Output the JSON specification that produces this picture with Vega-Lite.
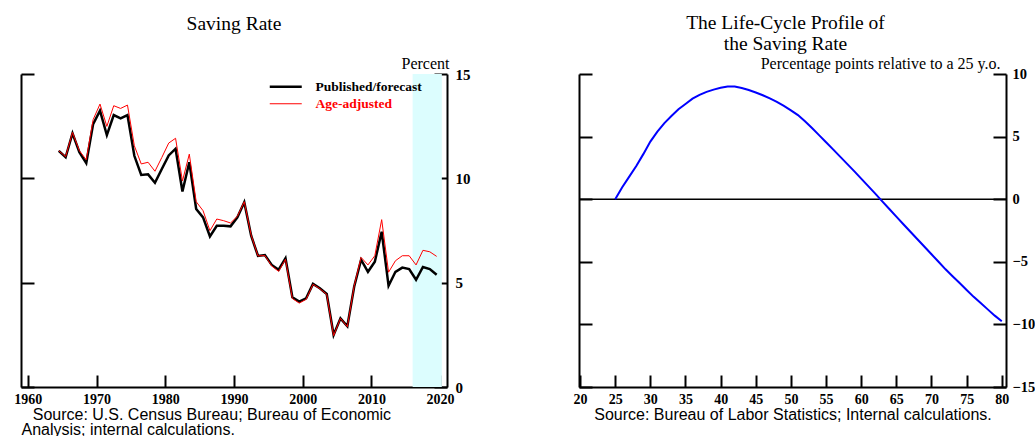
{
  "$schema": "https://vega.github.io/schema/vega-lite/v6.json",
  "background": "white",
  "padding": {"left": 13, "top": 12, "right": 0, "bottom": 0},
  "spacing": 132,
  "bounds": "flush",
  "config": {
    "view": {"stroke": null},
    "axis": {
      "grid": false,
      "domainColor": "#000000",
      "domainWidth": 2,
      "tickColor": "#000000",
      "tickWidth": 2,
      "labelFont": "Liberation Serif",
      "labelFontWeight": "bold",
      "labelColor": "#000000",
      "titleColor": "#000000",
      "labelFlush": false,
      "labelOverlap": false
    }
  },
  "datasets": {
    "saving": [
      {"date": "1964-07-01", "series": "Published/forecast", "value": 11.32},
      {"date": "1965-07-01", "series": "Published/forecast", "value": 11.01},
      {"date": "1966-07-01", "series": "Published/forecast", "value": 12.16},
      {"date": "1967-07-01", "series": "Published/forecast", "value": 11.25},
      {"date": "1968-07-01", "series": "Published/forecast", "value": 10.73},
      {"date": "1969-07-01", "series": "Published/forecast", "value": 12.6},
      {"date": "1970-07-01", "series": "Published/forecast", "value": 13.24},
      {"date": "1971-07-01", "series": "Published/forecast", "value": 12.07},
      {"date": "1972-07-01", "series": "Published/forecast", "value": 13.03},
      {"date": "1973-07-01", "series": "Published/forecast", "value": 12.87},
      {"date": "1974-07-01", "series": "Published/forecast", "value": 13.03},
      {"date": "1975-07-01", "series": "Published/forecast", "value": 11.08},
      {"date": "1976-07-01", "series": "Published/forecast", "value": 10.16},
      {"date": "1977-07-01", "series": "Published/forecast", "value": 10.19},
      {"date": "1978-07-01", "series": "Published/forecast", "value": 9.79},
      {"date": "1979-07-01", "series": "Published/forecast", "value": 10.45},
      {"date": "1980-07-01", "series": "Published/forecast", "value": 11.1},
      {"date": "1981-07-01", "series": "Published/forecast", "value": 11.42},
      {"date": "1982-07-01", "series": "Published/forecast", "value": 9.37},
      {"date": "1983-07-01", "series": "Published/forecast", "value": 10.77},
      {"date": "1984-07-01", "series": "Published/forecast", "value": 8.53},
      {"date": "1985-07-01", "series": "Published/forecast", "value": 8.13},
      {"date": "1986-07-01", "series": "Published/forecast", "value": 7.22},
      {"date": "1987-07-01", "series": "Published/forecast", "value": 7.73},
      {"date": "1988-07-01", "series": "Published/forecast", "value": 7.73},
      {"date": "1989-07-01", "series": "Published/forecast", "value": 7.7},
      {"date": "1990-07-01", "series": "Published/forecast", "value": 8.13},
      {"date": "1991-07-01", "series": "Published/forecast", "value": 8.85},
      {"date": "1992-07-01", "series": "Published/forecast", "value": 7.25},
      {"date": "1993-07-01", "series": "Published/forecast", "value": 6.28},
      {"date": "1994-07-01", "series": "Published/forecast", "value": 6.32},
      {"date": "1995-07-01", "series": "Published/forecast", "value": 5.85},
      {"date": "1996-07-01", "series": "Published/forecast", "value": 5.62},
      {"date": "1997-07-01", "series": "Published/forecast", "value": 6.17},
      {"date": "1998-07-01", "series": "Published/forecast", "value": 4.3},
      {"date": "1999-07-01", "series": "Published/forecast", "value": 4.09},
      {"date": "2000-07-01", "series": "Published/forecast", "value": 4.25},
      {"date": "2001-07-01", "series": "Published/forecast", "value": 4.94},
      {"date": "2002-07-01", "series": "Published/forecast", "value": 4.73},
      {"date": "2003-07-01", "series": "Published/forecast", "value": 4.46},
      {"date": "2004-07-01", "series": "Published/forecast", "value": 2.49},
      {"date": "2005-07-01", "series": "Published/forecast", "value": 3.29},
      {"date": "2006-07-01", "series": "Published/forecast", "value": 2.91},
      {"date": "2007-07-01", "series": "Published/forecast", "value": 4.82},
      {"date": "2008-07-01", "series": "Published/forecast", "value": 6.1},
      {"date": "2009-07-01", "series": "Published/forecast", "value": 5.52},
      {"date": "2010-07-01", "series": "Published/forecast", "value": 6.0},
      {"date": "2011-07-01", "series": "Published/forecast", "value": 7.44},
      {"date": "2012-07-01", "series": "Published/forecast", "value": 4.85},
      {"date": "2013-07-01", "series": "Published/forecast", "value": 5.52},
      {"date": "2014-07-01", "series": "Published/forecast", "value": 5.72},
      {"date": "2015-07-01", "series": "Published/forecast", "value": 5.65},
      {"date": "2016-07-01", "series": "Published/forecast", "value": 5.14},
      {"date": "2017-07-01", "series": "Published/forecast", "value": 5.75},
      {"date": "2018-07-01", "series": "Published/forecast", "value": 5.65},
      {"date": "2019-07-01", "series": "Published/forecast", "value": 5.38},
      {"date": "1964-07-01", "series": "Age-adjusted", "value": 11.32},
      {"date": "1965-07-01", "series": "Age-adjusted", "value": 11.04},
      {"date": "1966-07-01", "series": "Age-adjusted", "value": 12.2},
      {"date": "1967-07-01", "series": "Age-adjusted", "value": 11.32},
      {"date": "1968-07-01", "series": "Age-adjusted", "value": 10.89},
      {"date": "1969-07-01", "series": "Age-adjusted", "value": 12.81},
      {"date": "1970-07-01", "series": "Age-adjusted", "value": 13.56},
      {"date": "1971-07-01", "series": "Age-adjusted", "value": 12.49},
      {"date": "1972-07-01", "series": "Age-adjusted", "value": 13.48},
      {"date": "1973-07-01", "series": "Age-adjusted", "value": 13.35},
      {"date": "1974-07-01", "series": "Age-adjusted", "value": 13.51},
      {"date": "1975-07-01", "series": "Age-adjusted", "value": 11.56},
      {"date": "1976-07-01", "series": "Age-adjusted", "value": 10.69},
      {"date": "1977-07-01", "series": "Age-adjusted", "value": 10.77},
      {"date": "1978-07-01", "series": "Age-adjusted", "value": 10.34},
      {"date": "1979-07-01", "series": "Age-adjusted", "value": 11.0},
      {"date": "1980-07-01", "series": "Age-adjusted", "value": 11.69},
      {"date": "1981-07-01", "series": "Age-adjusted", "value": 11.92},
      {"date": "1982-07-01", "series": "Age-adjusted", "value": 9.87},
      {"date": "1983-07-01", "series": "Age-adjusted", "value": 11.16},
      {"date": "1984-07-01", "series": "Age-adjusted", "value": 8.88},
      {"date": "1985-07-01", "series": "Age-adjusted", "value": 8.45},
      {"date": "1986-07-01", "series": "Age-adjusted", "value": 7.49},
      {"date": "1987-07-01", "series": "Age-adjusted", "value": 8.05},
      {"date": "1988-07-01", "series": "Age-adjusted", "value": 7.97},
      {"date": "1989-07-01", "series": "Age-adjusted", "value": 7.86},
      {"date": "1990-07-01", "series": "Age-adjusted", "value": 8.18},
      {"date": "1991-07-01", "series": "Age-adjusted", "value": 8.88},
      {"date": "1992-07-01", "series": "Age-adjusted", "value": 7.28},
      {"date": "1993-07-01", "series": "Age-adjusted", "value": 6.28},
      {"date": "1994-07-01", "series": "Age-adjusted", "value": 6.3},
      {"date": "1995-07-01", "series": "Age-adjusted", "value": 5.8},
      {"date": "1996-07-01", "series": "Age-adjusted", "value": 5.54},
      {"date": "1997-07-01", "series": "Age-adjusted", "value": 6.12},
      {"date": "1998-07-01", "series": "Age-adjusted", "value": 4.24},
      {"date": "1999-07-01", "series": "Age-adjusted", "value": 4.02},
      {"date": "2000-07-01", "series": "Age-adjusted", "value": 4.2},
      {"date": "2001-07-01", "series": "Age-adjusted", "value": 4.92},
      {"date": "2002-07-01", "series": "Age-adjusted", "value": 4.71},
      {"date": "2003-07-01", "series": "Age-adjusted", "value": 4.44},
      {"date": "2004-07-01", "series": "Age-adjusted", "value": 2.46},
      {"date": "2005-07-01", "series": "Age-adjusted", "value": 3.29},
      {"date": "2006-07-01", "series": "Age-adjusted", "value": 2.89},
      {"date": "2007-07-01", "series": "Age-adjusted", "value": 4.85},
      {"date": "2008-07-01", "series": "Age-adjusted", "value": 6.21},
      {"date": "2009-07-01", "series": "Age-adjusted", "value": 5.85},
      {"date": "2010-07-01", "series": "Age-adjusted", "value": 6.29},
      {"date": "2011-07-01", "series": "Age-adjusted", "value": 8.02},
      {"date": "2012-07-01", "series": "Age-adjusted", "value": 5.5},
      {"date": "2013-07-01", "series": "Age-adjusted", "value": 6.05},
      {"date": "2014-07-01", "series": "Age-adjusted", "value": 6.29},
      {"date": "2015-07-01", "series": "Age-adjusted", "value": 6.29},
      {"date": "2016-07-01", "series": "Age-adjusted", "value": 5.85},
      {"date": "2017-07-01", "series": "Age-adjusted", "value": 6.55},
      {"date": "2018-07-01", "series": "Age-adjusted", "value": 6.48},
      {"date": "2019-07-01", "series": "Age-adjusted", "value": 6.26}
    ],
    "profile": [
      {"age": 25, "value": 0},
      {"age": 26, "value": 0.95},
      {"age": 27, "value": 1.8},
      {"age": 28, "value": 2.65},
      {"age": 29, "value": 3.6},
      {"age": 30, "value": 4.6},
      {"age": 31, "value": 5.39},
      {"age": 32, "value": 6.08},
      {"age": 33, "value": 6.65},
      {"age": 34, "value": 7.18},
      {"age": 35, "value": 7.6},
      {"age": 36, "value": 8.03},
      {"age": 37, "value": 8.33},
      {"age": 38, "value": 8.57},
      {"age": 39, "value": 8.75},
      {"age": 40, "value": 8.9},
      {"age": 41, "value": 9.0},
      {"age": 42, "value": 9.0},
      {"age": 43, "value": 8.88},
      {"age": 44, "value": 8.72},
      {"age": 45, "value": 8.52},
      {"age": 46, "value": 8.3},
      {"age": 47, "value": 8.05},
      {"age": 48, "value": 7.78},
      {"age": 49, "value": 7.45},
      {"age": 50, "value": 7.1},
      {"age": 51, "value": 6.72},
      {"age": 52, "value": 6.22},
      {"age": 53, "value": 5.68},
      {"age": 54, "value": 5.12},
      {"age": 55, "value": 4.55},
      {"age": 56, "value": 3.98},
      {"age": 57, "value": 3.4},
      {"age": 58, "value": 2.82},
      {"age": 59, "value": 2.24},
      {"age": 60, "value": 1.64},
      {"age": 61, "value": 1.04},
      {"age": 62, "value": 0.44},
      {"age": 63, "value": -0.17},
      {"age": 64, "value": -0.78},
      {"age": 65, "value": -1.39},
      {"age": 66, "value": -2.0},
      {"age": 67, "value": -2.6},
      {"age": 68, "value": -3.2},
      {"age": 69, "value": -3.8},
      {"age": 70, "value": -4.4},
      {"age": 71, "value": -5.0},
      {"age": 72, "value": -5.6},
      {"age": 73, "value": -6.15},
      {"age": 74, "value": -6.7},
      {"age": 75, "value": -7.25},
      {"age": 76, "value": -7.8},
      {"age": 77, "value": -8.3},
      {"age": 78, "value": -8.8},
      {"age": 79, "value": -9.3},
      {"age": 80, "value": -9.75}
    ]
  },
  "hconcat": [
    {
      "width": 426,
      "height": 313,
      "title": {
        "text": "Saving Rate",
        "font": "Liberation Serif",
        "fontSize": 19.5,
        "fontWeight": "normal",
        "color": "#000000",
        "anchor": "middle",
        "baseline": "alphabetic",
        "offset": 6
      },
      "data": {"name": "saving"},
      "layer": [
        {
          "data": {"values": [{"start": "2016-01-01", "end": "2020-04-01"}]},
          "mark": {"type": "rect", "color": "#dcfdfe"},
          "encoding": {
            "x": {"field": "start", "type": "temporal"},
            "x2": {"field": "end"}
          }
        },
        {
          "transform": [{"filter": "datum.series === 'Published/forecast'"}],
          "mark": {"type": "line"},
          "encoding": {
            "x": {
              "field": "date",
              "type": "temporal",
              "scale": {"type": "utc", "domain": [{"year": 1959, "utc": true}, {"year": 2021, "utc": true}]},
              "axis": {
                "orient": "bottom",
                "values": [{"year": 1960, "utc": true}, {"year": 1970, "utc": true}, {"year": 1980, "utc": true}, {"year": 1990, "utc": true}, {"year": 2000, "utc": true}, {"year": 2010, "utc": true}, {"year": 2020, "utc": true}],
                "format": "%Y",
                "tickSize": -12,
                "labelPadding": 17,
                "labelFontSize": 14,
                "title": ["\u200b\u2002\u2009Source: U.S. Census Bureau; Bureau of Economic", "Analysis; internal calculations."],
                "titleFont": "Liberation Sans",
                "titleFontSize": 16,
                "titleFontWeight": "normal",
                "titleAnchor": "start",
                "titleAlign": "left",
                "titleLineHeight": 15,
                "titlePadding": 0
              }
            },
            "y": {
              "field": "value",
              "type": "quantitative",
              "scale": {"domain": [0, 15], "nice": false},
              "axis": {
                "orient": "left",
                "values": [0, 5, 10, 15],
                "labels": false,
                "tickSize": -13,
                "title": null,
                "encode": {"ticks": {"update": {"x2": {"signal": "datum.value === 15 ? 20 : 13"}}}}
              }
            },
            "color": {
              "field": "series",
              "type": "nominal",
              "scale": {"domain": ["Published/forecast", "Age-adjusted"], "range": ["#000000", "#ff0000"]},
              "legend": {
                "orient": "none",
                "legendX": 258,
                "legendY": 6,
                "title": null,
                "padding": 0,
                "symbolType": "M-3.2,0H3.2",
                "symbolSize": 100,
                "labelFont": "Liberation Serif",
                "labelFontSize": 13.5,
                "labelFontWeight": "bold",
                "labelOffset": 23,
                "rowPadding": 2,
                "encode": {"labels": {"update": {"fill": {"signal": "datum.value === 'Age-adjusted' ? '#ff0000' : '#000000'"}}}}
              }
            },
            "strokeWidth": {
              "field": "series",
              "type": "nominal",
              "scale": {"domain": ["Published/forecast", "Age-adjusted"], "range": [2.5, 1]}
            }
          }
        },
        {
          "transform": [{"filter": "datum.series === 'Age-adjusted'"}],
          "mark": {"type": "line"},
          "encoding": {
            "x": {"field": "date", "type": "temporal"},
            "y": {
              "field": "value",
              "type": "quantitative",
              "axis": {
                "orient": "right",
                "values": [0, 5, 10, 15],
                "tickSize": -13,
                "labelPadding": 21,
                "labelFontSize": 15,
                "labelBaseline": "middle",
                "title": "Percent",
                "titleFont": "Liberation Serif",
                "titleFontSize": 16,
                "titleFontWeight": "normal",
                "titleAngle": 0,
                "titleAlign": "right",
                "titleBaseline": "alphabetic",
                "titleX": 2,
                "titleY": -6,
                "encode": {"ticks": {"update": {"x2": {"signal": "datum.value === 15 ? -20 : -13"}}}}
              }
            },
            "color": {"field": "series", "type": "nominal"},
            "strokeWidth": {"field": "series", "type": "nominal"}
          }
        }
      ],
      "resolve": {"axis": {"y": "independent"}}
    },
    {
      "width": 427,
      "height": 313,
      "title": {
        "text": ["The Life-Cycle Profile of", "the Saving Rate"],
        "font": "Liberation Serif",
        "fontSize": 19.5,
        "fontWeight": "normal",
        "color": "#000000",
        "anchor": "middle",
        "baseline": "alphabetic",
        "lineHeight": 21,
        "dx": -7,
        "offset": -14
      },
      "data": {"name": "profile"},
      "layer": [
        {
          "data": {"values": [{"level": 0}]},
          "mark": {"type": "rule", "color": "#000000", "strokeWidth": 1.5},
          "encoding": {
            "y": {
              "field": "level",
              "type": "quantitative",
              "scale": {"domain": [-15, 10], "nice": false},
              "axis": {
                "orient": "left",
                "values": [-15, -10, -5, 0, 5, 10],
                "labels": false,
                "tickSize": -13,
                "title": "Percentage points relative to a 25 y.o.",
                "titleFont": "Liberation Serif",
                "titleFontSize": 16,
                "titleFontWeight": "normal",
                "titleAngle": 0,
                "titleAlign": "right",
                "titleBaseline": "alphabetic",
                "titleX": 421,
                "titleY": -6,
                "encode": {"ticks": {"update": {"x2": {"signal": "datum.value === 10 ? 20 : 13"}}}}
              }
            }
          }
        },
        {
          "mark": {"type": "line", "color": "#0000ff", "strokeWidth": 2},
          "encoding": {
            "x": {
              "field": "age",
              "type": "quantitative",
              "scale": {"domain": [19.85, 80.6], "nice": false, "zero": false},
              "axis": {
                "orient": "bottom",
                "values": [20, 25, 30, 35, 40, 45, 50, 55, 60, 65, 70, 75, 80],
                "tickSize": -12,
                "labelPadding": 17,
                "labelFontSize": 14,
                "title": "Source: Bureau of Labor Statistics; Internal calculations.",
                "titleFont": "Liberation Sans",
                "titleFontSize": 16,
                "titleFontWeight": "normal",
                "titlePadding": 0
              }
            },
            "y": {
              "field": "value",
              "type": "quantitative",
              "axis": {
                "orient": "right",
                "values": [-15, -10, -5, 0, 5, 10],
                "tickSize": -13,
                "labelPadding": 19,
                "labelFontSize": 14.5,
                "labelBaseline": "middle",
                "title": null,
                "encode": {"ticks": {"update": {"x2": {"signal": "datum.value === 10 ? -20 : -13"}}}}
              }
            }
          }
        }
      ],
      "resolve": {"axis": {"y": "independent"}}
    }
  ]
}
